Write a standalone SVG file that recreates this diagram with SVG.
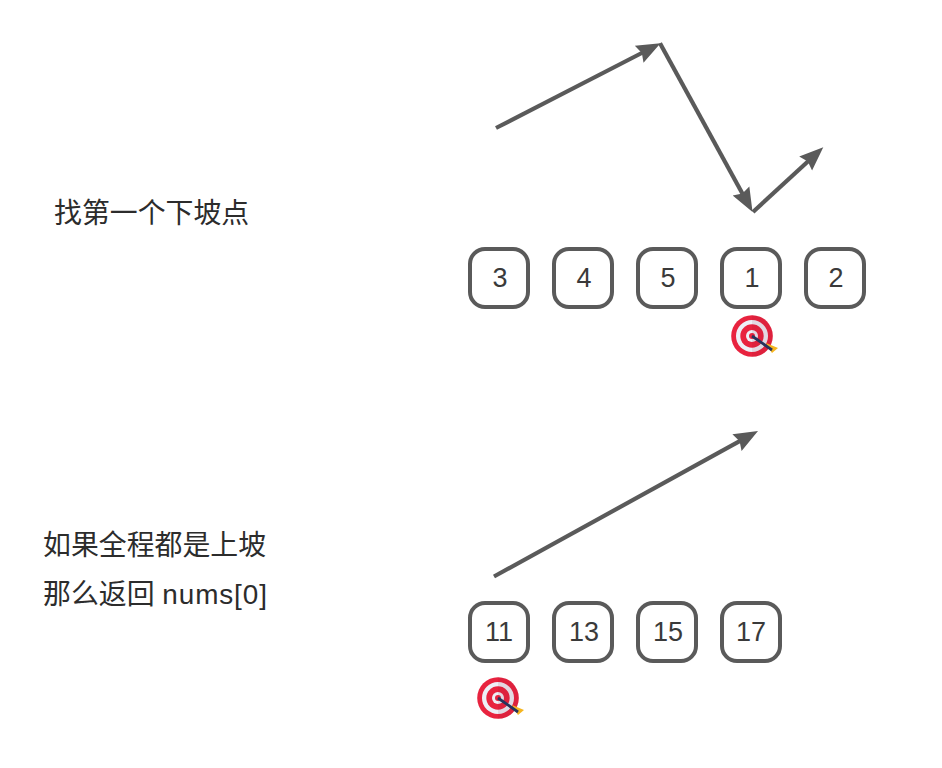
<svg xmlns="http://www.w3.org/2000/svg" width="942" height="768" viewBox="0 0 942 768">
<style>
.box{fill:#fff;stroke:#5a5a5a;stroke-width:4}
.num{font:27px "Liberation Sans","Noto Sans",sans-serif;fill:#3a3a3a;text-anchor:middle}
.lab{font:27.900px "Liberation Sans","Noto Sans CJK SC",sans-serif;fill:#2c2c2c}
.con{fill:none;stroke:#5a5a5a;stroke-width:4.200}
</style>
<defs>
<marker id="arrow" markerUnits="userSpaceOnUse" markerWidth="28" markerHeight="24" refX="16" refY="12" orient="auto" viewBox="0 0 28 24">
<path d="M0 2.500L24 12L0 21.500L3 12Z" fill="#5a5a5a"/>
</marker>
<g id="target">
<circle r="20.800" fill="#e8233f"/>
<circle r="16" fill="#edf0f7"/>
<circle r="11.700" fill="#e8233f"/>
<circle r="6" fill="#edf0f7"/>
<circle r="3" fill="#e8233f"/>
<path d="M0 -20.800A20.800 20.800 0 0 1 0 20.800Z" fill="#8a1030" fill-opacity=".1"/>
<path d="M14 7L26 12L20 17L16 11Z" fill="#f5b51f"/>
<path d="M0 0L20 14" stroke="#26345c" stroke-width="2.800" fill="none"/>
</g>
</defs>
<rect width="942" height="768" fill="#fff"/>
<g id="connectors">
<path class="con" d="M496 128L653.400 47" marker-end="url(#arrow)"/>
<path class="con" d="M660 43.300L748.700 205" marker-end="url(#arrow)"/>
<path class="con" d="M753 212L817.400 152.700" marker-end="url(#arrow)"/>
<path class="con" d="M494 576.500L751 434.900" marker-end="url(#arrow)"/>
</g>
<g id="label-1"><text class="lab" x="54" y="223">找第一个下坡点</text></g>
<g id="label-2"><text class="lab" x="43" y="555">如果全程都是上坡</text><text class="lab" x="43" y="604">那么返回 <tspan letter-spacing=".9">nums[0]</tspan></text></g>
<g id="n3"><rect class="box" x="470" y="249" width="58" height="58" rx="15"/><text class="num" x="500" y="287">3</text></g>
<g id="n4"><rect class="box" x="554" y="249" width="58" height="58" rx="15"/><text class="num" x="584" y="287">4</text></g>
<g id="n5"><rect class="box" x="638" y="249" width="58" height="58" rx="15"/><text class="num" x="668" y="287">5</text></g>
<g id="n1"><rect class="box" x="722" y="249" width="58" height="58" rx="15"/><text class="num" x="752" y="287">1</text></g>
<g id="n2"><rect class="box" x="806" y="249" width="58" height="58" rx="15"/><text class="num" x="836" y="287">2</text></g>
<g id="n11"><rect class="box" x="470" y="603" width="58" height="58" rx="15"/><text class="num" x="499" y="641">11</text></g>
<g id="n13"><rect class="box" x="554" y="603" width="58" height="58" rx="15"/><text class="num" x="584" y="641">13</text></g>
<g id="n15"><rect class="box" x="638" y="603" width="58" height="58" rx="15"/><text class="num" x="668" y="641">15</text></g>
<g id="n17"><rect class="box" x="722" y="603" width="58" height="58" rx="15"/><text class="num" x="751" y="641">17</text></g>
<g id="target-1"><use href="#target" x="752" y="336"/></g>
<g id="target-2"><use href="#target" x="498" y="698"/></g>
</svg>
